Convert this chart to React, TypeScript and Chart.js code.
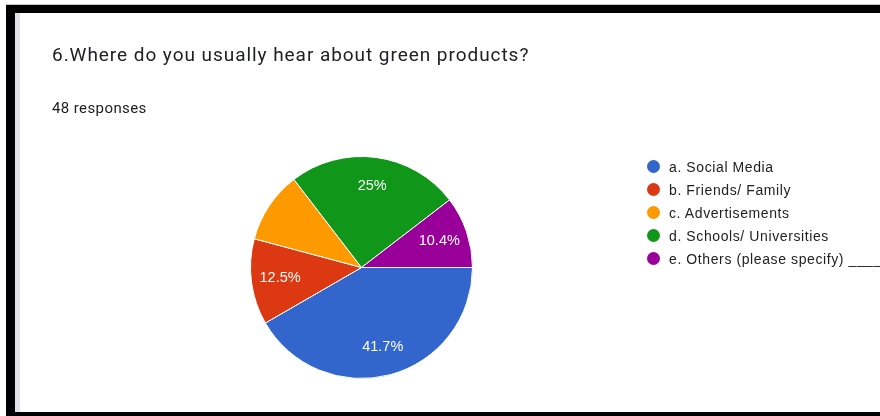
import React, { useEffect, useRef } from "react";
import { Chart, registerables } from "chart.js";

Chart.register(...registerables);

const title = "6.Where do you usually hear about green products?";
const subtitle = "48 responses";
const categories = [
  "a. Social Media",
  "b. Friends/ Family",
  "c. Advertisements",
  "d. Schools/ Universities",
  "e. Others (please specify) ____________",
];
const counts = [20, 6, 5, 12, 5];
const sliceLabels = ["41.7%", "12.5%", "", "25%", "10.4%"];
const colors = ["#3366cc", "#dc3912", "#ff9900", "#109618", "#990099"];

const sliceLabelPlugin = {
  id: "sliceLabels",
  afterDatasetsDraw(chart: any) {
    const ctx = chart.ctx;
    const meta = chart.getDatasetMeta(0);
    ctx.save();
    ctx.fillStyle = "#ffffff";
    ctx.font = "14.5px 'Liberation Sans', Arial, sans-serif";
    ctx.textAlign = "center";
    ctx.textBaseline = "middle";
    meta.data.forEach((arc: any, i: number) => {
      const text = sliceLabels[i];
      if (!text) return;
      const p = arc.getProps(["x", "y", "startAngle", "endAngle", "outerRadius"], true);
      const mid = (p.startAngle + p.endAngle) / 2;
      const r = p.outerRadius * 0.74;
      ctx.fillText(text, p.x + Math.cos(mid) * r, p.y + Math.sin(mid) * r);
    });
    ctx.restore();
  },
};

export default function App() {
  const canvasRef = useRef<HTMLCanvasElement | null>(null);

  useEffect(() => {
    document.body.style.margin = "0";
    const chart = new Chart(canvasRef.current as HTMLCanvasElement, {
      type: "pie",
      data: {
        labels: categories,
        datasets: [
          {
            data: counts,
            backgroundColor: colors,
            borderColor: "#ffffff",
            borderWidth: 1,
          },
        ],
      },
      options: {
        animation: false,
        responsive: false,
        rotation: 90,
        layout: { padding: { left: 248, right: 405, top: 156, bottom: 37 } },
        plugins: {
          legend: { display: false },
          tooltip: { enabled: false },
        },
      },
      plugins: [sliceLabelPlugin],
    });
    return () => chart.destroy();
  }, []);

  return (
    <div
      style={{
        position: "fixed",
        left: 0,
        top: 0,
        width: 880,
        height: 416,
        background: "#ffffff",
        overflow: "hidden",
        fontFamily: "Roboto, Arial, sans-serif",
      }}
    >
      <div style={{ position: "absolute", left: 6, top: 4, width: 874, height: 1, background: "#c8c8c8" }} />
      <div style={{ position: "absolute", left: 6, top: 5, width: 874, height: 8, background: "#000" }} />
      <div style={{ position: "absolute", left: 6, top: 5, width: 9, height: 411, background: "#000" }} />
      <div style={{ position: "absolute", left: 6, top: 412, width: 874, height: 4, background: "#000" }} />
      <div style={{ position: "absolute", left: 15, top: 13, width: 5, height: 399, background: "#e2e2ee" }} />
      <canvas
        ref={canvasRef}
        width={880}
        height={416}
        style={{ position: "absolute", left: 0, top: 0, width: 880, height: 416 }}
      />
      <div
        style={{
          position: "absolute",
          left: 52,
          top: 45,
          fontSize: 19,
          lineHeight: "19px",
          letterSpacing: "0.95px",
          color: "#202124",
          whiteSpace: "nowrap",
        }}
      >
        {title}
      </div>
      <div
        style={{
          position: "absolute",
          left: 52,
          top: 101,
          fontSize: 15,
          lineHeight: "15px",
          letterSpacing: "0.4px",
          color: "#202124",
          whiteSpace: "nowrap",
        }}
      >
        {subtitle}
      </div>
      <div style={{ position: "absolute", left: 647, top: 155 }}>
        {categories.map((c, i) => (
          <div
            key={c}
            style={{
              display: "flex",
              alignItems: "center",
              height: 23,
              whiteSpace: "nowrap",
              fontFamily: "'Liberation Sans', Arial, sans-serif",
              fontSize: 14,
              letterSpacing: "0.6px",
              color: "#222222",
            }}
          >
            <span
              style={{
                display: "inline-block",
                width: 13,
                height: 13,
                borderRadius: "50%",
                background: colors[i],
                marginRight: 9,
              }}
            />
            {c}
          </div>
        ))}
      </div>
    </div>
  );
}
